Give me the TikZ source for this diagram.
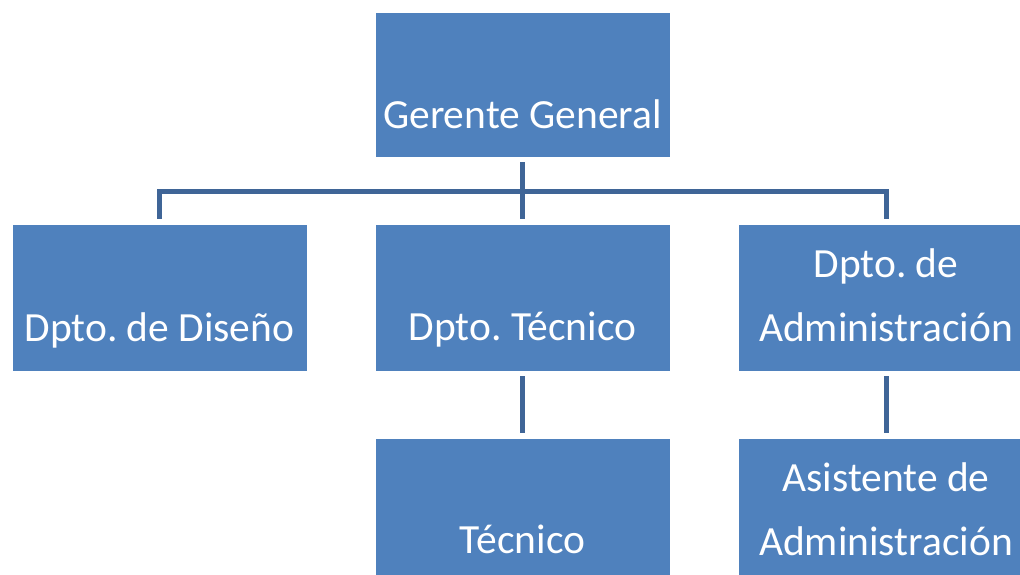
\documentclass[tikz,border=0pt]{standalone}
\usepackage{fontspec}
\setmainfont{Carlito}
\frenchspacing
\definecolor{boxblue}{HTML}{4F81BD}
\definecolor{linkblue}{HTML}{3F6597}
\begin{document}
\begin{tikzpicture}[x=1pt,y=-1pt,
  unit/.style={fill=boxblue, draw=none, inner sep=0pt, minimum width=294pt, minimum height=146pt},
  caption/.style={text=white, font=\fontsize{41.5}{64}\selectfont, align=center, anchor=base, inner sep=0pt},
  link/.style={draw=linkblue, line width=5pt}]
\useasboundingbox (0,0) rectangle (1020,575);
\clip (0,0) rectangle (1020,575);

% boxes
\node[unit, minimum height=144pt] (ger) at (522.5,85) {};
\node[unit] (dis) at (159.5,298) {};
\node[unit] (tec) at (522.5,298) {};
\node[unit] (adm) at (886,298) {};
\node[unit] (tcn) at (522.5,512) {};
\node[unit] (asi) at (886,512) {};

% captions (anchored at the baseline of the last line)
\node[caption] (gerT) at ([yshift=-116pt]ger.north) {Gerente General};
\node[caption] (disT) at ([yshift=-117pt]dis.north) {Dpto. de Diseño};
\node[caption] (tecT) at ([yshift=-116pt]tec.north) {Dpto. Técnico};
\node[caption] (admT) at ([yshift=-117pt]adm.north) {Dpto. de\\Administración};
\node[caption] (tcnT) at ([yshift=-115pt]tcn.north) {Técnico};
\node[caption] (asiT) at ([yshift=-117pt]asi.north) {Asistente de\\Administración};

% connectors
\coordinate (bus) at (522.5,191);
\draw[link] ([yshift=-5pt]ger.south) -- ([yshift=6pt]tec.north);
\draw[link] ([yshift=6pt]dis.north) -- (dis.north |- bus) -- (adm.north |- bus) -- ([yshift=6pt]adm.north);
\draw[link] ([yshift=-5pt]tec.south) -- ([yshift=6pt]tcn.north);
\draw[link] ([yshift=-5pt]adm.south) -- ([yshift=6pt]asi.north);
\end{tikzpicture}
\end{document}
